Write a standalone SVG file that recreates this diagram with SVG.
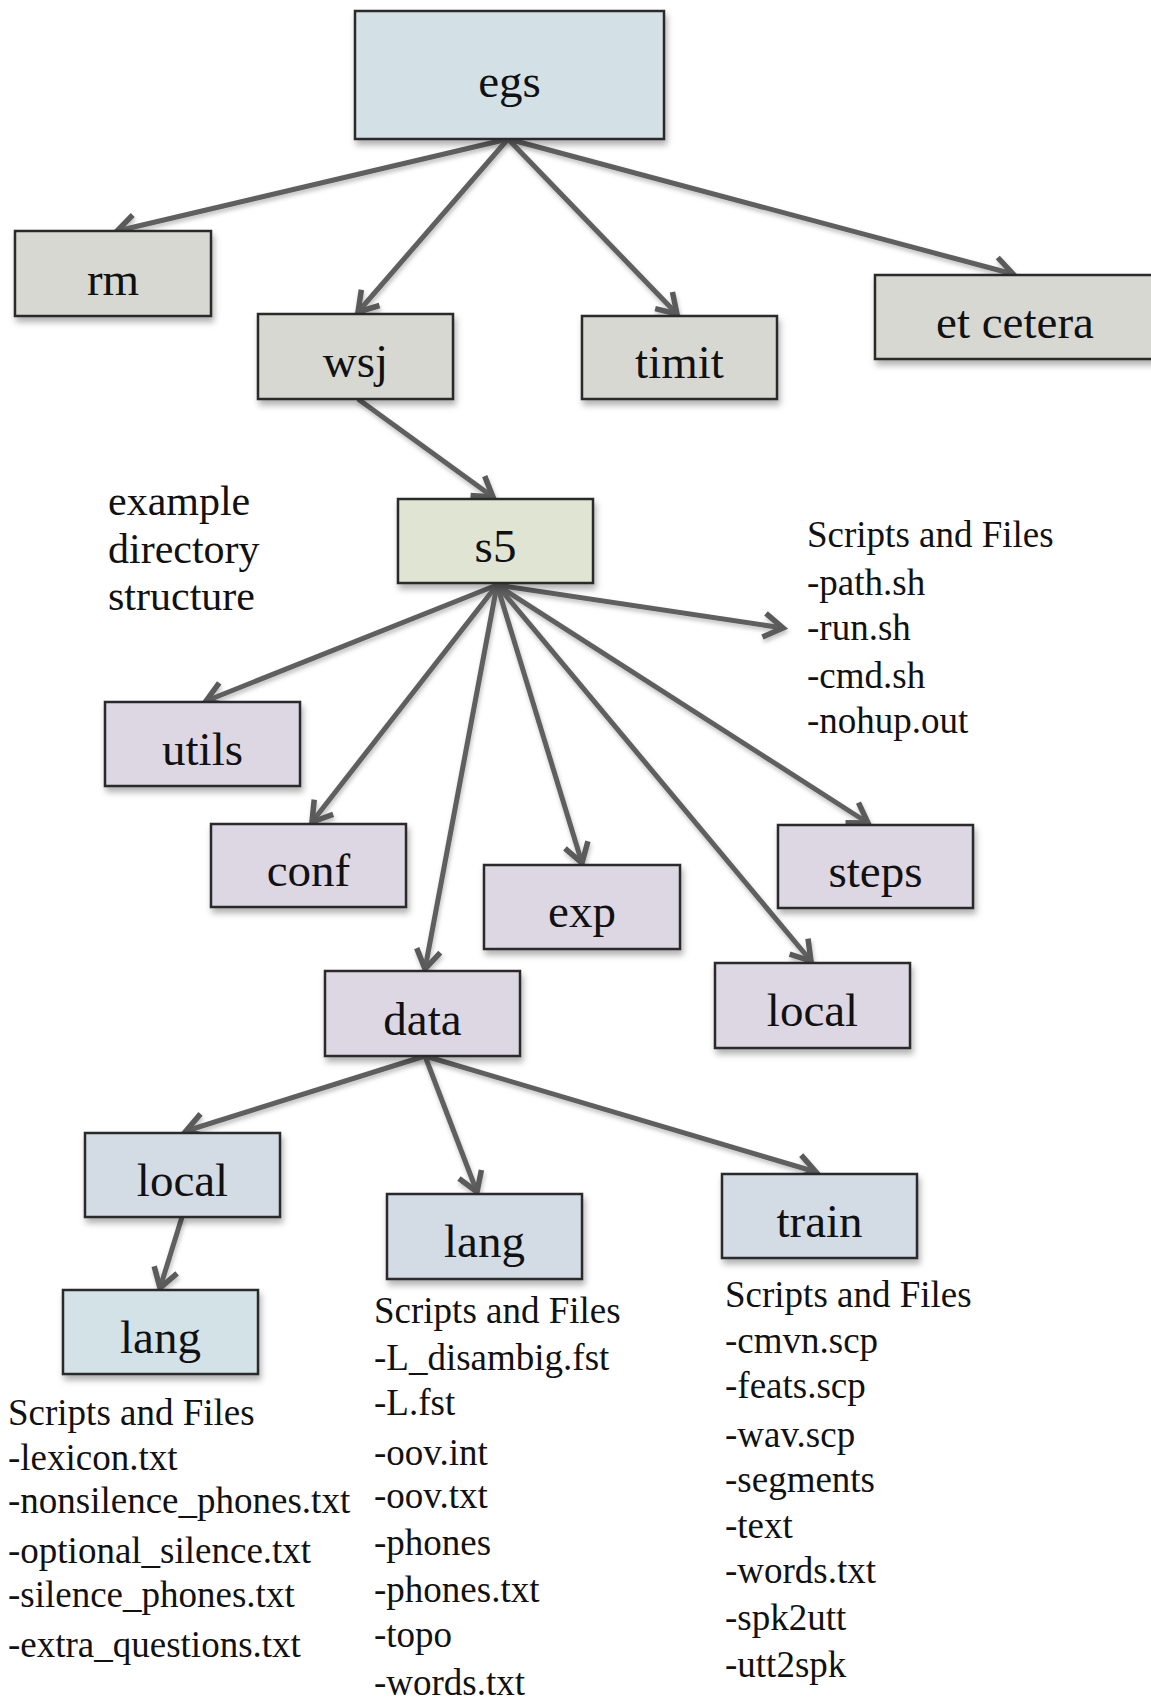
<svg xmlns="http://www.w3.org/2000/svg" width="1151" height="1700" viewBox="0 0 1151 1700">
<defs>
<filter id="sh" x="-10%" y="-10%" width="125%" height="130%">
<feDropShadow dx="2" dy="5" stdDeviation="3" flood-color="#000" flood-opacity="0.3"/>
</filter>
<filter id="lsh" x="-10%" y="-10%" width="120%" height="120%">
<feDropShadow dx="1" dy="3" stdDeviation="2" flood-color="#000" flood-opacity="0.25"/>
</filter>
<marker id="arr" viewBox="-24 -15 28 30" refX="0" refY="0" markerWidth="28" markerHeight="30" markerUnits="userSpaceOnUse" orient="auto" overflow="visible">
<path d="M-19,-12 L0,0 L-19,12" fill="none" stroke="#5a5a5a" stroke-width="5.5" stroke-linejoin="miter"/>
</marker>
</defs>
<style>
.c{stroke:#5f5f5f;stroke-width:5;fill:none;marker-end:url(#arr)}
.n{stroke:#2b2b2b;stroke-width:2.5;filter:url(#sh)}
.g{fill:#d8d8d3}.b{fill:#d3e1e6}.s{fill:#dfe4d3}.v{fill:#dcd7e2}.d{fill:#d3dbe4}.t{fill:#d3e2e6}
.l{font-family:"Liberation Serif","Times New Roman",serif;font-size:47px;fill:#111;text-anchor:middle}
.x{font-family:"Liberation Serif","Times New Roman",serif;font-size:37px;fill:#111}
.e{font-family:"Liberation Serif","Times New Roman",serif;font-size:42px;fill:#111}
</style>
<rect width="1151" height="1700" fill="#fff"/>
<g id="connectors" filter="url(#lsh)">
<line class="c" x1="508" y1="139" x2="117" y2="231"/>
<line class="c" x1="508" y1="139" x2="358" y2="312"/>
<line class="c" x1="508" y1="139" x2="677" y2="314"/>
<line class="c" x1="508" y1="139" x2="1013" y2="274"/>
<line class="c" x1="358" y1="399" x2="493" y2="497"/>
<line class="c" x1="497" y1="585" x2="206" y2="701"/>
<line class="c" x1="497" y1="585" x2="783" y2="628"/>
<line class="c" x1="497" y1="585" x2="312" y2="822"/>
<line class="c" x1="497" y1="585" x2="425" y2="969"/>
<line class="c" x1="497" y1="585" x2="582" y2="863"/>
<line class="c" x1="497" y1="585" x2="811" y2="961"/>
<line class="c" x1="497" y1="585" x2="868" y2="823"/>
<line class="c" x1="425" y1="1056" x2="186" y2="1131"/>
<line class="c" x1="425" y1="1056" x2="477" y2="1192"/>
<line class="c" x1="425" y1="1056" x2="816" y2="1172"/>
<line class="c" x1="182" y1="1217" x2="160" y2="1288"/>
</g>
<g id="egs"><rect class="n b" x="355" y="11" width="309" height="128"/><text class="l" x="509.5" y="97" font-size="54">egs</text></g>
<g id="rm"><rect class="n g" x="15" y="231" width="196" height="85"/><text class="l" x="113" y="295">rm</text></g>
<g id="wsj"><rect class="n g" x="258" y="314" width="195" height="85"/><text class="l" x="355.5" y="377">wsj</text></g>
<g id="timit"><rect class="n g" x="582" y="316" width="195" height="83"/><text class="l" x="679.5" y="378">timit</text></g>
<g id="etcetera"><rect class="n g" x="875" y="275" width="290" height="84"/><text class="l" x="1015" y="338">et cetera</text></g>
<g id="s5"><rect class="n s" x="398" y="499" width="195" height="84"/><text class="l" x="495.5" y="562">s5</text></g>
<g id="example-label"><text class="e" x="108" y="515">example</text><text class="e" x="108" y="563">directory</text><text class="e" x="108" y="610">structure</text></g>
<g id="s5-files"><text class="x" x="807" y="547">Scripts and Files</text><text class="x" x="807" y="595">-path.sh</text><text class="x" x="807" y="640">-run.sh</text><text class="x" x="807" y="688">-cmd.sh</text><text class="x" x="807" y="733">-nohup.out</text></g>
<g id="utils"><rect class="n v" x="105" y="702" width="195" height="84"/><text class="l" x="202.5" y="765">utils</text></g>
<g id="conf"><rect class="n v" x="211" y="824" width="195" height="83"/><text class="l" x="308.5" y="886">conf</text></g>
<g id="exp"><rect class="n v" x="484" y="865" width="196" height="84"/><text class="l" x="582" y="927">exp</text></g>
<g id="steps"><rect class="n v" x="778" y="825" width="195" height="83"/><text class="l" x="875.5" y="887">steps</text></g>
<g id="local-s5"><rect class="n v" x="715" y="963" width="195" height="85"/><text class="l" x="812.5" y="1026">local</text></g>
<g id="data"><rect class="n v" x="325" y="971" width="195" height="85"/><text class="l" x="422.5" y="1035">data</text></g>
<g id="local-data"><rect class="n d" x="85" y="1133" width="195" height="84"/><text class="l" x="182.5" y="1196">local</text></g>
<g id="lang-data"><rect class="n d" x="387" y="1194" width="195" height="85"/><text class="l" x="484.5" y="1257">lang</text></g>
<g id="train"><rect class="n d" x="722" y="1174" width="195" height="84"/><text class="l" x="819.5" y="1237">train</text></g>
<g id="lang-local"><rect class="n t" x="63" y="1290" width="195" height="84"/><text class="l" x="160.5" y="1353">lang</text></g>
<g id="lang-local-files"><text class="x" x="8" y="1425">Scripts and Files</text><text class="x" x="8" y="1470">-lexicon.txt</text><text class="x" x="8" y="1513">-nonsilence_phones.txt</text><text class="x" x="8" y="1563">-optional_silence.txt</text><text class="x" x="8" y="1607">-silence_phones.txt</text><text class="x" x="8" y="1657">-extra_questions.txt</text></g>
<g id="lang-data-files"><text class="x" x="374" y="1323">Scripts and Files</text><text class="x" x="374" y="1370">-L_disambig.fst</text><text class="x" x="374" y="1415">-L.fst</text><text class="x" x="374" y="1465">-oov.int</text><text class="x" x="374" y="1508">-oov.txt</text><text class="x" x="374" y="1555">-phones</text><text class="x" x="374" y="1602">-phones.txt</text><text class="x" x="374" y="1647">-topo</text><text class="x" x="374" y="1695">-words.txt</text></g>
<g id="train-files"><text class="x" x="725" y="1307">Scripts and Files</text><text class="x" x="725" y="1353">-cmvn.scp</text><text class="x" x="725" y="1398">-feats.scp</text><text class="x" x="725" y="1447">-wav.scp</text><text class="x" x="725" y="1492">-segments</text><text class="x" x="725" y="1538">-text</text><text class="x" x="725" y="1583">-words.txt</text><text class="x" x="725" y="1630">-spk2utt</text><text class="x" x="725" y="1677">-utt2spk</text></g>
</svg>
